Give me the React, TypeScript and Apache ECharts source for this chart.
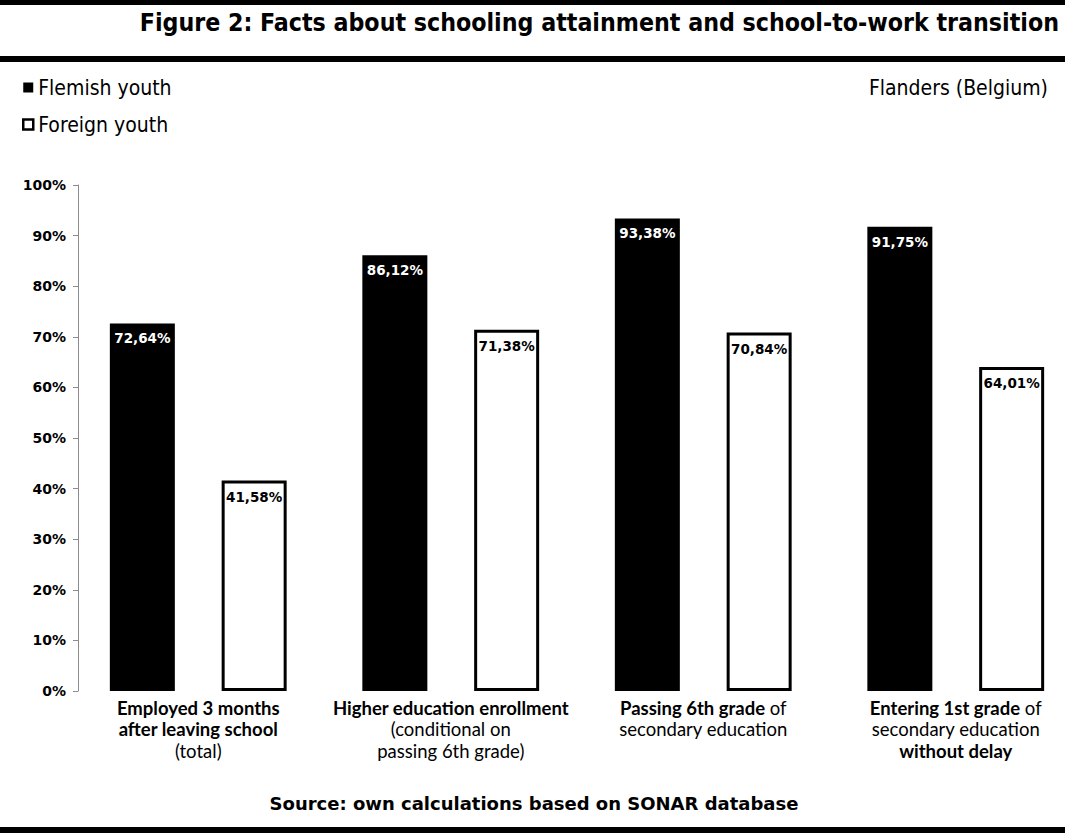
import React, { useEffect, useRef } from "react";
import * as echarts from "echarts";

const categories = [
  "Employed 3 months after leaving school (total)",
  "Higher education enrollment (conditional on passing 6th grade)",
  "Passing 6th grade of secondary education",
  "Entering 1st grade of secondary education without delay",
];
const categoryLabels = [
  "{b|Employed 3 months}\n{b|after leaving school}\n{n|(total)}",
  "{b|Higher education enrollment}\n{n|(conditional on}\n{n|passing 6th grade)}",
  "{b|Passing 6th grade}{n| of}\n{n|secondary education}",
  "{b|Entering 1st grade}{n| of}\n{n|secondary education}\n{b|without delay}",
];
const flemishYouth = [72.64, 86.12, 93.38, 91.75];
const foreignYouth = [41.58, 71.38, 70.84, 64.01];
const yTicks = [0, 10, 20, 30, 40, 50, 60, 70, 80, 90, 100];

const TITLE = "Figure 2: Facts about schooling attainment and school-to-work transition";
const SOURCE = "Source: own calculations based on SONAR database";
const REGION = "Flanders (Belgium)";

const fmt = (v: number) => v.toFixed(2).replace(".", ",") + "%";

export default function App() {
  const ref = useRef<HTMLDivElement>(null);
  useEffect(() => {
    if (!ref.current) return;
    const chart = echarts.init(ref.current, undefined, { renderer: "svg" });
    const condensed = "'DejaVu Sans Condensed', 'DejaVu Sans', sans-serif";
    const verdanaLike = "'DejaVu Sans', sans-serif";
    chart.setOption({
      animation: false,
      backgroundColor: "#ffffff",
      legend: {
        orient: "vertical",
        left: 22,
        top: 77,
        padding: 0,
        itemWidth: 10,
        itemHeight: 10,
        itemGap: 16,
        textStyle: { fontFamily: condensed, fontSize: 21, color: "#000" },
        data: [
          { name: "Flemish youth", icon: "rect", itemStyle: { color: "#000", borderWidth: 0 } },
          { name: "Foreign youth", icon: "rect", itemStyle: { color: "#fff", borderColor: "#000", borderWidth: 2.5 } },
        ],
      },
      graphic: [
        { type: "rect", x: 0, y: 0, shape: { width: 1065, height: 5 }, style: { fill: "#000" } },
        { type: "rect", x: 0, y: 56, shape: { width: 1065, height: 6 }, style: { fill: "#000" } },
        { type: "rect", x: 0, y: 827, shape: { width: 1065, height: 6 }, style: { fill: "#000" } },
        {
          type: "text",
          x: 1059,
          y: 22,
          style: {
            text: TITLE,
            align: "right",
            verticalAlign: "middle",
            fontFamily: condensed,
            fontWeight: "bold",
            fontSize: 24.7,
            fill: "#000",
          },
        },
        {
          type: "text",
          x: 1048,
          y: 88,
          style: {
            text: REGION,
            align: "right",
            verticalAlign: "middle",
            fontFamily: condensed,
            fontSize: 21,
            fill: "#000",
          },
        },
        {
          type: "text",
          x: 534,
          y: 803,
          style: {
            text: SOURCE,
            align: "center",
            verticalAlign: "middle",
            fontFamily: verdanaLike,
            fontWeight: "bold",
            fontSize: 18,
            fill: "#000",
          },
        },
      ],
      grid: { left: 72, top: 185, width: 1010, height: 506, containLabel: false },
      xAxis: {
        type: "category",
        data: categories,
        axisLine: { show: false },
        axisTick: { show: false },
        axisLabel: {
          interval: 0,
          margin: 6,
          formatter: (_v: string, i: number) => categoryLabels[i],
          rich: {
            b: { fontFamily: "Lato, sans-serif", fontWeight: "bold", fontSize: 18.5, color: "#000", lineHeight: 21.5 },
            n: { fontFamily: "Lato, sans-serif", fontSize: 18.5, color: "#000", lineHeight: 21.5 },
          },
        },
      },
      yAxis: {
        type: "value",
        min: yTicks[0],
        max: yTicks[yTicks.length - 1],
        interval: 10,
        offset: -6,
        axisLine: { show: true, lineStyle: { color: "#8c8c8c", width: 1 } },
        axisTick: { show: true, length: 5, lineStyle: { color: "#8c8c8c" } },
        splitLine: { show: false },
        axisLabel: {
          margin: 12,
          formatter: (v: number) => v + "%",
          fontFamily: verdanaLike,
          fontWeight: "bold",
          fontSize: 14,
          color: "#000",
        },
      },
      series: [
        {
          name: "Flemish youth",
          type: "bar",
          data: flemishYouth,
          barWidth: 65,
          barGap: "72%",
          itemStyle: { color: "#000" },
          label: {
            show: true,
            position: "insideTop",
            distance: 8,
            formatter: (p: any) => fmt(p.value),
            color: "#fff",
            fontFamily: verdanaLike,
            fontWeight: "bold",
            fontSize: 13.5,
          },
        },
        {
          name: "Foreign youth",
          type: "bar",
          data: foreignYouth,
          barWidth: 65,
          itemStyle: { color: "#fff", borderColor: "#000", borderWidth: 3 },
          label: {
            show: true,
            position: "insideTop",
            distance: 9,
            formatter: (p: any) => fmt(p.value),
            color: "#000",
            fontFamily: verdanaLike,
            fontWeight: "bold",
            fontSize: 13.5,
          },
        },
      ],
    });
    return () => chart.dispose();
  }, []);
  return (
    <div
      ref={ref}
      style={{ position: "fixed", left: 0, top: 0, width: 1090, height: 834, background: "#fff" }}
    />
  );
}
